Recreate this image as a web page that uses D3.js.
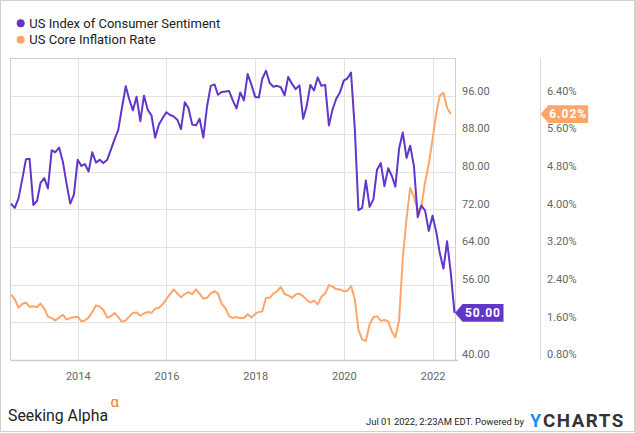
<!DOCTYPE html>
<html><head><meta charset="utf-8">
<script src="https://cdn.jsdelivr.net/npm/d3@7"></script>
<style>body{margin:0;background:#fff}svg{display:block}text{font-family:Roboto,"Noto Sans",sans-serif}</style>
</head><body>
<svg id="c" width="635" height="433"></svg>
<script>
// ---------- data ----------
const seriesNames = ["US Index of Consumer Sentiment", "US Core Inflation Rate"];
const seriesColors = ["#6236c8", "#ffa56a"];
const sentimentStart = [2012, 6];   // first month (monthly data, plotted at month end)
const sentiment = [
  73.2, 72.3, 74.3, 78.3, 82.6, 82.7, 72.9,
  73.8, 77.6, 78.6, 76.4, 84.5, 84.1, 85.1, 82.1, 77.5, 73.2, 75.1, 82.5,
  81.2, 81.6, 80.0, 84.1, 81.9, 82.5, 81.8, 82.5, 84.6, 86.9, 88.8, 93.6,
  98.1, 95.4, 93.0, 95.9, 90.7, 96.1, 93.1, 91.9, 87.2, 90.0, 91.3, 92.6,
  92.0, 91.7, 91.0, 89.0, 94.7, 93.5, 90.0, 89.8, 91.2, 87.2, 93.8, 98.2,
  98.5, 96.3, 96.9, 97.0, 97.1, 95.1, 93.4, 96.8, 95.1, 100.7, 98.5, 95.9,
  95.7, 99.7, 101.4, 98.8, 98.0, 98.2, 97.9, 96.2, 100.1, 98.6, 97.5, 98.3,
  91.2, 93.8, 98.4, 97.2, 100.0, 98.2, 98.4, 89.8, 93.2, 95.5, 96.8, 99.3,
  99.8, 101.0, 89.1, 71.8, 72.3, 78.1, 72.5, 74.1, 80.4, 81.8, 76.9, 80.7,
  79.0, 76.8, 84.9, 88.3, 82.9, 85.5, 81.2, 70.3, 72.8, 71.7, 67.4, 70.6,
  67.2, 62.8, 59.4, 65.2, 58.4, 50.0
];
const inflationStart = [2012, 6];
const inflation = [
  2.19, 2.09, 1.91, 1.99, 2.02, 1.93, 1.94,
  1.92, 2.00, 1.89, 1.72, 1.69, 1.64, 1.70, 1.76, 1.66, 1.69, 1.71, 1.72,
  1.62, 1.64, 1.70, 1.82, 1.96, 1.93, 1.86, 1.70, 1.73, 1.80, 1.71, 1.61,
  1.64, 1.72, 1.80, 1.81, 1.74, 1.79, 1.82, 1.80, 1.89, 1.91, 1.98, 2.09,
  2.20, 2.30, 2.21, 2.13, 2.20, 2.24, 2.20, 2.30, 2.21, 2.10, 2.12, 2.21,
  2.26, 2.21, 1.99, 1.90, 1.73, 1.69, 1.71, 1.69, 1.69, 1.77, 1.70, 1.78,
  1.82, 1.83, 2.12, 2.12, 2.21, 2.26, 2.35, 2.20, 2.17, 2.12, 2.19, 2.21,
  2.15, 2.08, 2.02, 2.06, 1.98, 2.14, 2.21, 2.39, 2.36, 2.30, 2.30, 2.26,
  2.27, 2.37, 2.10, 1.44, 1.24, 1.20, 1.56, 1.71, 1.73, 1.63, 1.65, 1.62,
  1.40, 1.28, 1.65, 2.96, 3.80, 4.45, 4.27, 3.98, 4.04, 4.58, 4.96, 5.48,
  6.04, 6.41, 6.47, 6.15, 6.02
];
const sentimentTicks = [40, 48, 56, 64, 72, 80, 88, 96];
const inflationTicks = [0.8, 1.6, 2.4, 3.2, 4.0, 4.8, 5.6, 6.4];
const yearTicks = [2014, 2016, 2018, 2020, 2022];
const timestamp = "Jul 01 2022, 2:23AM EDT.";

// ---------- helpers ----------
const monthEnd = (start, i) => new Date(start[0], start[1] - 1 + i + 1, 0);
const sData = sentiment.map((v, i) => ({d: monthEnd(sentimentStart, i), v}));
const iData = inflation.map((v, i) => ({d: monthEnd(inflationStart, i), v}));
function fit(sel, target) {
  const fs = +sel.attr("font-size");
  const w = sel.node().getComputedTextLength();
  if (w > 0) sel.attr("font-size", (fs * target / w).toFixed(2));
  return sel;
}

const svg = d3.select("#c");
const L = 10.5, R = 455.5, T = 58.5, B = 360;

const x = d3.scaleTime()
  .domain([new Date(2012, 5, 30), new Date(2022, 5, 30)])
  .range([11, 454.5]);
const yS = d3.scaleLinear().domain([40, 104]).range([B, T]);
const yI = d3.scaleLinear().domain([0.8, 7.2]).range([B, T]);

// outer border
svg.append("rect").attr("x", 0.5).attr("y", 0.5).attr("width", 634).attr("height", 431)
  .attr("fill", "none").attr("stroke", "#d0d0d0");

// grid
const grid = svg.append("g");
grid.selectAll("line.h").data(sentimentTicks.slice(1)).join("line")
  .attr("x1", L).attr("x2", R)
  .attr("y1", d => Math.round(yS(d)) + 0.5).attr("y2", d => Math.round(yS(d)) + 0.5)
  .attr("stroke", "#e2e2e2");
grid.selectAll("line.v").data(yearTicks).join("line")
  .attr("y1", T).attr("y2", B)
  .attr("x1", d => Math.round(x(new Date(d, 0, 1))) + 0.5)
  .attr("x2", d => Math.round(x(new Date(d, 0, 1))) + 0.5)
  .attr("stroke", "#e2e2e2");

// frame
svg.append("path").attr("d", `M${L},${B}V${T}H${R}V${B}`).attr("fill", "none").attr("stroke", "#cfcfcf");
svg.append("line").attr("x1", L).attr("x2", 458).attr("y1", B + 0.5).attr("y2", B + 0.5).attr("stroke", "#cfcfcf").attr("stroke-width", 1.5);
svg.append("line").attr("x1", 540.5).attr("x2", 540.5).attr("y1", T).attr("y2", B).attr("stroke", "#dcdcdc");

// x axis
const xAxis = d3.axisBottom(x).tickValues(yearTicks.map(y => new Date(y, 0, 1)))
  .tickFormat(d3.timeFormat("%Y")).tickSize(0).tickPadding(0);
const gx = svg.append("g").attr("transform", `translate(0,${B + 12})`).call(xAxis);
gx.select(".domain").remove();
gx.selectAll("text").attr("font-size", 11).attr("fill", "#666").attr("font-family", "Roboto").attr("dy", "0.71em");

// right axes (labels sit just above their gridlines; 48.00 is covered by the badge)
const hiddenS = [48];
const axS = d3.axisRight(yS).tickValues(sentimentTicks.filter(t => !hiddenS.includes(t)))
  .tickFormat(d3.format(".2f")).tickSize(0).tickPadding(0);
const gS = svg.append("g").attr("transform", `translate(462,0)`).call(axS);
gS.select(".domain").remove();
gS.selectAll("text").attr("font-size", 11).attr("fill", "#666").attr("font-family", "Roboto")
  .attr("dy", "-0.2em").attr("x", 0);

const axI = d3.axisRight(yI).tickValues(inflationTicks)
  .tickFormat(d => d3.format(".2f")(d) + "%").tickSize(0).tickPadding(0);
const gI = svg.append("g").attr("transform", `translate(547,0)`).call(axI);
gI.select(".domain").remove();
gI.selectAll("text").attr("font-size", 11).attr("fill", "#666").attr("font-family", "Roboto")
  .attr("dy", "-0.2em").attr("x", 0);

// lines
const lineS = d3.line().x(d => x(d.d)).y(d => yS(d.v));
const lineI = d3.line().x(d => x(d.d)).y(d => yI(d.v));
svg.append("path").datum(iData).attr("d", lineI).attr("fill", "none")
  .attr("stroke", seriesColors[1]).attr("stroke-width", 2).attr("stroke-linejoin", "round");
svg.append("path").datum(sData).attr("d", lineS).attr("fill", "none")
  .attr("stroke", seriesColors[0]).attr("stroke-width", 2).attr("stroke-linejoin", "round");

// badges
function badge(tipX, yc, w, color, label) {
  const h = 17.6, a = 7.5;
  svg.append("path")
    .attr("d", `M${tipX},${yc}L${tipX + a},${yc - h / 2}H${tipX + w}V${yc + h / 2}H${tipX + a}Z`)
    .attr("fill", color);
  svg.append("text").attr("x", tipX + a + (w - a) / 2).attr("y", yc).attr("dy", "0.36em")
    .attr("text-anchor", "middle").attr("fill", "#fff").attr("font-weight", "bold")
    .attr("font-size", 12).attr("letter-spacing", 1).text(label);
}
const lastS = sData[sData.length - 1], lastI = iData[iData.length - 1];
badge(455, yS(lastS.v), 48.5, seriesColors[0], d3.format(".2f")(lastS.v));
badge(540.7, yI(lastI.v), 47.5, seriesColors[1], d3.format(".2f")(lastI.v) + "%");

// legend
const leg = svg.append("g");
seriesNames.forEach((n, i) => {
  leg.append("circle").attr("cx", 20.7).attr("cy", 23.3 + i * 16.4).attr("r", 4).attr("fill", seriesColors[i]);
  leg.append("text").attr("x", 29.3).attr("y", 23.3 + i * 16.4).attr("dy", "0.35em")
    .attr("font-size", 13).attr("fill", "#222").text(n);
});

// footer
fit(svg.append("text").attr("x", 8).attr("y", 421).attr("font-family", "'Open Sans'")
  .attr("font-size", 17).attr("fill", "#222").text("Seeking Alpha"), 100);
svg.append("text").attr("x", 110.5).attr("y", 407).attr("font-family", "'DejaVu Sans'")
  .attr("font-size", 15).attr("fill", "#ff7a1a").text("α");
fit(svg.append("text").attr("x", 366).attr("y", 425).attr("font-family", "'Liberation Sans Narrow','Liberation Sans'")
  .attr("font-size", 11.5).attr("fill", "#222").text(timestamp + "  Powered by"), 158);
svg.append("text").attr("x", 530).attr("y", 427).attr("font-family", "'Liberation Sans'")
  .attr("font-weight", "bold").attr("font-size", 18).attr("fill", "#1a8fe6").text("Y");
fit(svg.append("text").attr("x", 543).attr("y", 427).attr("font-family", "'Liberation Sans'")
  .attr("font-weight", "bold").attr("font-size", 15).attr("letter-spacing", 1.5).attr("fill", "#333").text("CHARTS"), 84);
</script>
</body></html>
